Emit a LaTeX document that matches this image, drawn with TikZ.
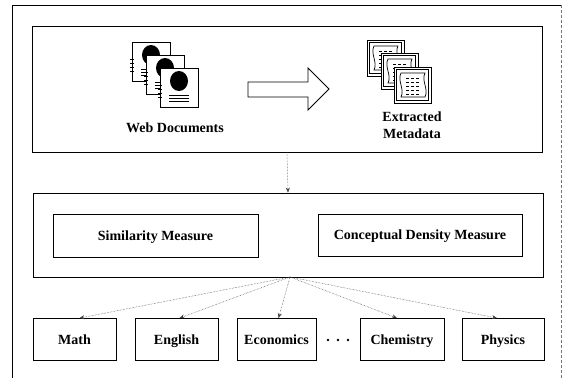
\documentclass[tikz,border=0pt]{standalone}
\usepackage{fontspec}
\setmainfont{Liberation Serif}
\usetikzlibrary{arrows.meta}
\newcommand\wpage[2]{%
  \begin{scope}[shift={(#1,#2)}]
    \filldraw[fill=white,draw=black,line width=0.7pt] (0,0) rectangle (38,39);
    \fill[black] (19,13) ellipse [x radius=9, y radius=10];
    \foreach \yy in {27,30,33} \draw[line width=0.6pt] (9,\yy) -- (29,\yy);
    \foreach \yy in {17,21,25,29} \draw[line width=0.5pt] (-2,\yy) -- (2,\yy);
  \end{scope}}
\newcommand\mpage[2]{%
  \begin{scope}[shift={(#1,#2)}]
    \filldraw[fill=white,draw=black,line width=0.9pt] (0,0) rectangle (37,36);
    \draw[line width=0.4pt] (2.5,2.5) rectangle (34.5,33.5);
    \filldraw[fill=white,draw=black,line width=0.7pt] (7,6) -- (31,6)
      .. controls (27,14) and (35,22) .. (31,30) -- (7,30)
      .. controls (11,22) and (3,14) .. (7,6) -- cycle;
    \foreach \yy in {11,15,19,23,27} \draw[line width=0.6pt,densely dashed] (12,\yy) -- (26,\yy);
  \end{scope}}
\tikzset{
  box/.style={draw=black, line width=0.8pt, inner sep=0pt, fill=white},
  lbl/.style={font=\fontsize{14}{16}\selectfont\bfseries, align=center, inner sep=0pt},
  boxtext/.style={lbl, text height=11.5pt, text depth=2.5pt},
  conn/.style={densely dotted, line width=0.5pt, draw=black!75, -{Stealth[length=5pt,width=4pt]}}
}
\begin{document}
\begin{tikzpicture}[x=1pt,y=-1pt]
\useasboundingbox (0,0) rectangle (571,378);
% outer frame
\draw[line width=0.7pt] (12,378) -- (12,5) -- (561,5);
\draw[line width=0.6pt, draw=black!55, densely dashed] (561,5) -- (561,378);
% top box
\node[box, minimum width=510pt, minimum height=126pt] (top) at (287,89) {};
\wpage{132}{42}
\wpage{146}{55}
\wpage{160}{68}
\node[boxtext] (webdoc) at (175,128) {Web Documents};
\draw[line width=0.8pt, fill=white] (248,82) -- (308,82) -- (308,68) -- (329,89) -- (308,110) -- (308,97) -- (248,97) -- cycle;
\mpage{367}{40}
\mpage{381}{53}
\mpage{394}{67}
\node[lbl] (meta) at (412,125) {Extracted\\[1pt]Metadata};
% middle box
\node[box, minimum width=510pt, minimum height=84pt] (mid) at (288,235) {};
\node[box, boxtext, minimum width=205pt, minimum height=43pt] (sim) at (155.5,235.5) {Similarity Measure};
\node[box, boxtext, minimum width=204pt, minimum height=42pt] (cdm) at (420,235) {Conceptual Density Measure};
\draw[conn] (top.south) -- (mid.north);
% bottom boxes
\node[box, boxtext, minimum width=83pt, minimum height=42pt] (math) at (74.5,339.5) {Math};
\node[box, boxtext, minimum width=83pt, minimum height=42pt] (eng) at (176.5,339.5) {English};
\node[box, boxtext, minimum width=79pt, minimum height=42pt] (eco) at (276.5,339.5) {Economics};
\node[box, boxtext, minimum width=84pt, minimum height=42pt] (chem) at (402,339.5) {Chemistry};
\node[box, boxtext, minimum width=82pt, minimum height=42pt] (phys) at (503,339.5) {Physics};
\foreach \dx in {328,338,348} \fill (\dx,340) circle (1.3);
\coordinate (src) at (290,277);
\draw[conn] (src) -- ([xshift=5pt]math.north);
\draw[conn] (src) -- ([xshift=3pt]eng.north);
\draw[conn] (src) -- ([xshift=2pt]eco.north);
\draw[conn] (src) -- ([xshift=-5pt]chem.north);
\draw[conn] (src) -- ([xshift=-6pt]phys.north);
\end{tikzpicture}
\end{document}
